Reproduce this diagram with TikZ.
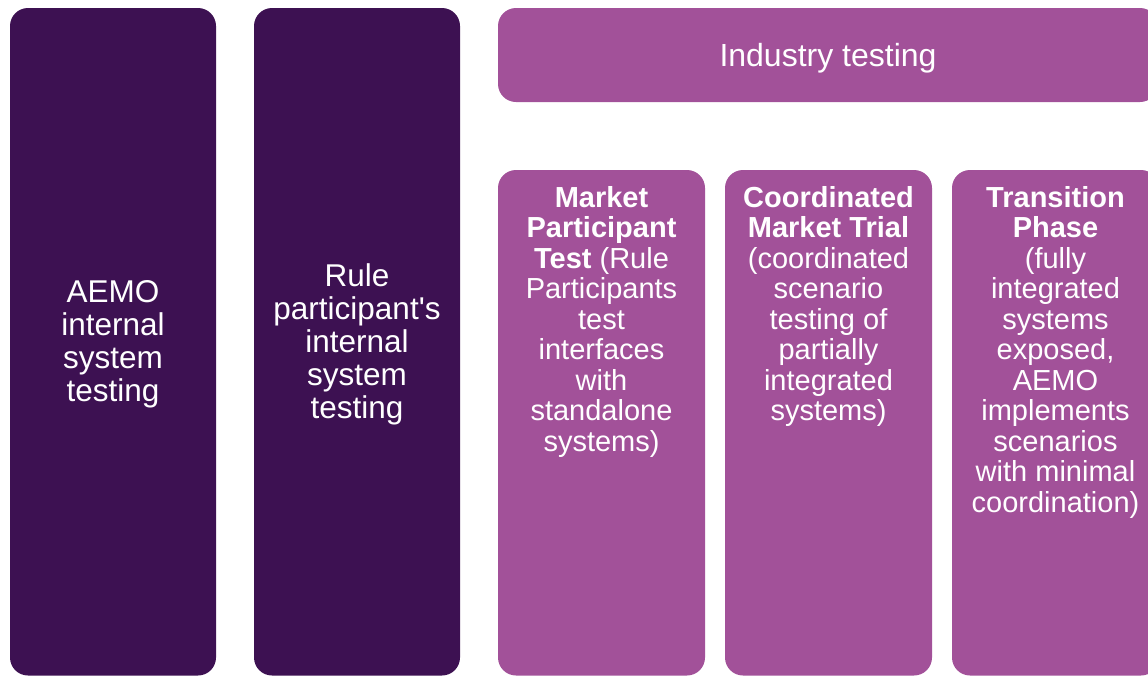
\documentclass[tikz,border=0pt]{standalone}
\usepackage{fontspec}
\setmainfont{Liberation Sans}
\definecolor{darkp}{HTML}{3D1152}
\definecolor{lightp}{HTML}{A25199}
\begin{document}
\begin{tikzpicture}[x=1pt,y=-1pt,
  box/.style={rounded corners=18pt},
  bigtext/.style={text=white,align=center,font=\fontsize{31.5}{33}\selectfont,inner sep=0pt},
  smalltext/.style={text=white,align=center,font=\fontsize{29}{30.5}\selectfont,inner sep=0pt,anchor=north}]
\useasboundingbox (0,0) rectangle (1148,675);
\clip (0,0) rectangle (1148,675);
% left boxes
\fill[darkp,box] (10,8) rectangle (216,675.5);
\fill[darkp,box] (254,8) rectangle (460,675.5);
\node[bigtext] (aemo) at (113,344) {AEMO\\internal\\system\\testing};
\node[bigtext] (rule) at (357,344) {Rule\\participant\textquotesingle s\\internal\\system\\testing};
% industry testing
\fill[lightp,box] (498,8) rectangle (1158,102);
\node[text=white,inner sep=0pt,font=\fontsize{32}{34}\selectfont] (ind) at (828,58) {Industry testing};
% three phase boxes
\fill[lightp,box] (498,170) rectangle (705,675.5);
\fill[lightp,box] (725,170) rectangle (932,675.5);
\fill[lightp,box] (952,170) rectangle (1159,675.5);
\node[smalltext] (mpt) at (601.5,186) {\textbf{Market}\\\textbf{Participant}\\\textbf{Test} (Rule\\Participants\\test\\interfaces\\with\\standalone\\systems)};
\node[smalltext] (cmt) at (828.5,186) {\textbf{Coordinated}\\\textbf{Market Trial}\\(coordinated\\scenario\\testing of\\partially\\integrated\\systems)};
\node[smalltext] (tp) at (1055.5,186) {\textbf{Transition}\\\textbf{Phase}\\(fully\\integrated\\systems\\exposed,\\AEMO\\implements\\scenarios\\with minimal\\coordination)};
\end{tikzpicture}
\end{document}
